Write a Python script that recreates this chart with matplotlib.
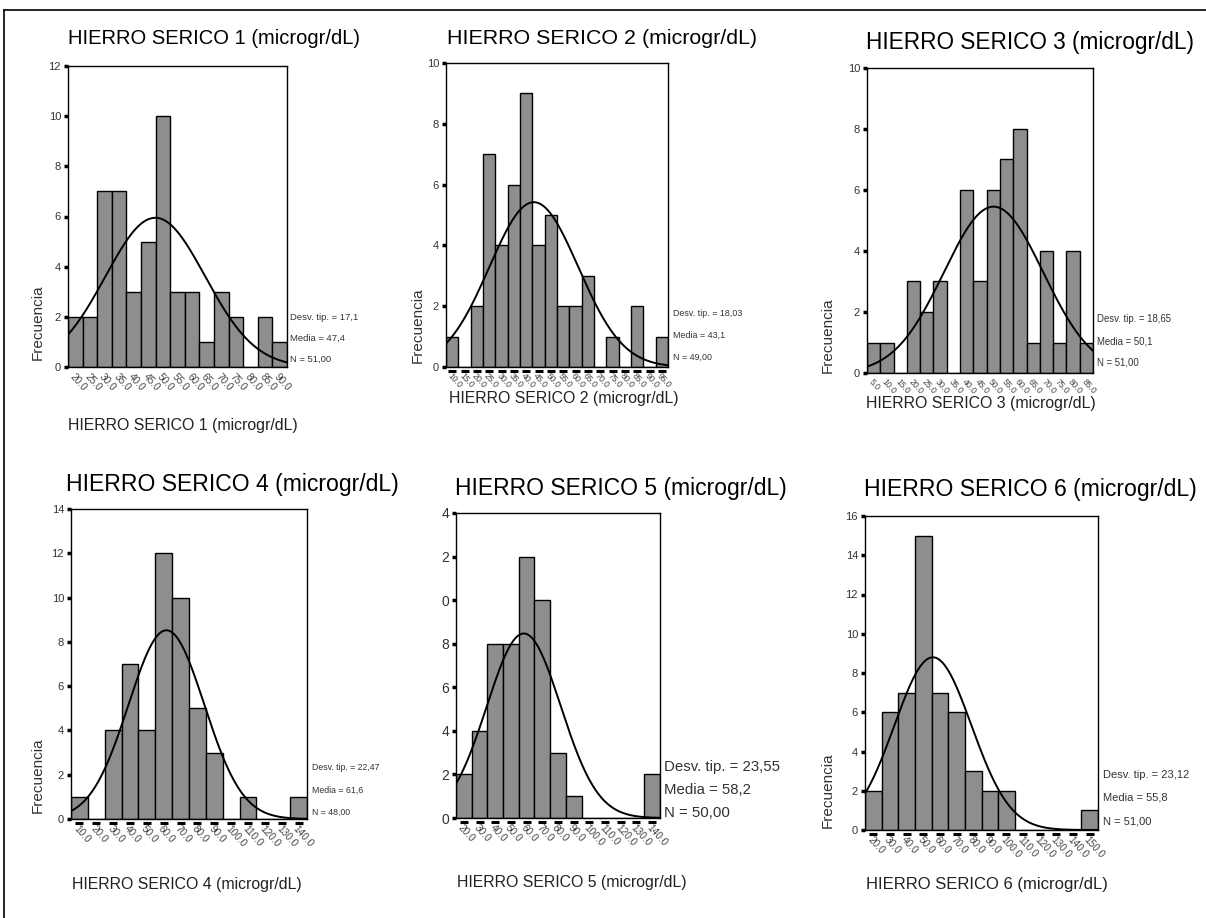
import numpy as np
import matplotlib
matplotlib.use("Agg")
import matplotlib.pyplot as plt
import matplotlib.transforms as mtransforms
from matplotlib.lines import Line2D

plt.rcParams['font.family'] = ['Liberation Sans', 'DejaVu Sans']

W, H = 1206, 918

# ---------------- data ----------------
titles = ["HIERRO SERICO 1 (microgr/dL)", "HIERRO SERICO 2 (microgr/dL)",
          "HIERRO SERICO 3 (microgr/dL)", "HIERRO SERICO 4 (microgr/dL)",
          "HIERRO SERICO 5 (microgr/dL)", "HIERRO SERICO 6 (microgr/dL)"]
xlabels = titles

centers1 = [20, 25, 30, 35, 40, 45, 50, 55, 60, 65, 70, 75, 80, 85, 90]
counts1 = [2, 2, 7, 7, 3, 5, 10, 3, 3, 1, 3, 2, 0, 2, 1]
centers2 = [10, 15, 20, 25, 30, 35, 40, 45, 50, 55, 60, 65, 70, 75, 80, 85, 90, 95]
counts2 = [1, 0, 2, 7, 4, 6, 9, 4, 5, 2, 2, 3, 0, 1, 0, 2, 0, 1]
centers3 = [5, 10, 15, 20, 25, 30, 35, 40, 45, 50, 55, 60, 65, 70, 75, 80, 85]
counts3 = [1, 1, 0, 3, 2, 3, 0, 6, 3, 6, 7, 8, 1, 4, 1, 4, 1]
centers4 = [10, 20, 30, 40, 50, 60, 70, 80, 90, 100, 110, 120, 130, 140]
counts4 = [1, 0, 4, 7, 4, 12, 10, 5, 3, 0, 1, 0, 0, 1]
centers5 = [20, 30, 40, 50, 60, 70, 80, 90, 100, 110, 120, 130, 140]
counts5 = [2, 4, 8, 8, 12, 10, 3, 1, 0, 0, 0, 0, 2]
centers6 = [20, 30, 40, 50, 60, 70, 80, 90, 100, 110, 120, 130, 140, 150]
counts6 = [2, 6, 7, 15, 7, 6, 3, 2, 2, 0, 0, 0, 0, 1]

bin_widths = [5, 5, 5, 10, 10, 10]
sd_vals = [17.1, 18.03, 18.65, 22.47, 23.55, 23.12]
mean_vals = [47.4, 43.1, 50.1, 61.6, 58.2, 55.8]
n_vals = [51, 49, 51, 48, 50, 51]
sd_txt = ["17,1", "18,03", "18,65", "22,47", "23,55", "23,12"]
mean_txt = ["47,4", "43,1", "50,1", "61,6", "58,2", "55,8"]
n_txt = ["51,00", "49,00", "51,00", "48,00", "50,00", "51,00"]

yticks_all = [[0, 2, 4, 6, 8, 10, 12], [0, 2, 4, 6, 8, 10], [0, 2, 4, 6, 8, 10],
              [0, 2, 4, 6, 8, 10, 12, 14], [0, 2, 4, 6, 8, 10, 12, 14],
              [0, 2, 4, 6, 8, 10, 12, 14, 16]]
ytick_labels5 = ["0", "2", "4", "6", "8", "0", "2", "4"]

centers_all = [centers1, centers2, centers3, centers4, centers5, centers6]
counts_all = [counts1, counts2, counts3, counts4, counts5, counts6]

# ---------------- layout (pixels) ----------------
boxes = [(68, 66, 287, 367), (446, 63, 668, 367), (867, 68, 1093, 373),
         (71, 509, 307, 819), (456, 513, 660, 818), (865, 516, 1098, 830)]
title_pos = [(68, 38, 14.5), (447, 38, 15.4), (866, 42, 16.3),
             (66, 484, 16.6), (455, 488, 16.5), (864, 490, 16.6)]
xlabel_pos = [(68, 425, 11.4), (449, 399, 11.4), (866, 404, 11.4),
              (72, 885, 11.4), (457, 883, 11.4), (866, 885, 12.0)]
ylabel_pos = [(38, 322), (418, 325), (828, 335), (38, 775), None, (828, 790)]
stats_pos = [(290, 317, 21, 6.8), (673, 313, 22, 6.4), (1097, 319, 22, 6.9),
             (312, 768, 22, 6.3), (664, 767, 23, 10.8), (1103, 775, 23, 8.0)]
xtick_fs = [7.2, 6.2, 6.2, 7.2, 7.2, 7.2]
dashes = [False, True, False, True, True, True]

fig = plt.figure(figsize=(W / 100, H / 100), dpi=100)

def fx(x):
    return x / W

def fy(y):
    return 1 - y / H

# outer frame (top and left lines)
fig.add_artist(Line2D([fx(4), fx(1206)], [fy(10), fy(10)], color='black', lw=1.2,
                      transform=fig.transFigure))
fig.add_artist(Line2D([fx(4), fx(4)], [fy(10), fy(918)], color='black', lw=1.2,
                      transform=fig.transFigure))

for i in range(6):
    l, t, r, b = boxes[i]
    ax = fig.add_axes([fx(l), fy(b), fx(r) - fx(l), (b - t) / H])
    c = np.array(centers_all[i], dtype=float)
    cnt = np.array(counts_all[i], dtype=float)
    bw = bin_widths[i]
    ax.bar(c, cnt, width=bw, color='#8e8e8e', edgecolor='black', linewidth=1.0, zorder=2)
    x0, x1 = c[0] - bw / 2, c[-1] + bw / 2
    xs = np.linspace(x0, x1, 300)
    ys = n_vals[i] * bw / (sd_vals[i] * np.sqrt(2 * np.pi)) * np.exp(-0.5 * ((xs - mean_vals[i]) / sd_vals[i]) ** 2)
    ax.plot(xs, ys, color='black', lw=1.4, zorder=3)
    ax.set_xlim(x0, x1)
    ax.set_ylim(0, yticks_all[i][-1])
    ax.set_yticks(yticks_all[i])
    if i == 4:
        ax.set_yticklabels(ytick_labels5)
    else:
        ax.set_yticklabels([str(v) for v in yticks_all[i]])
    ax.tick_params(axis='y', direction='out', length=3, width=2.5,
                   labelsize=10 if i == 4 else 8, pad=2, colors='black',
                   labelcolor='#333333')
    ax.set_xticks(c)
    ax.set_xticklabels([f"{v:.1f}" for v in c], rotation=-48, ha='left', va='top',
                       rotation_mode='anchor', fontsize=xtick_fs[i], color='#444444')
    ax.tick_params(axis='x', length=0, pad=3)
    for sp in ax.spines.values():
        sp.set_linewidth(1.0)
    if dashes[i]:
        trans = mtransforms.blended_transform_factory(ax.transData, ax.transAxes) + \
            mtransforms.ScaledTranslation(0, -4 / 100, fig.dpi_scale_trans)
        ax.plot(c, np.zeros_like(c), linestyle='none', marker='_', markersize=6,
                markeredgewidth=2.2, color='black', transform=trans, clip_on=False)
    # title
    tx, ty, ts = title_pos[i]
    fig.text(fx(tx), fy(ty), titles[i], fontsize=ts, ha='left', va='center', color='black')
    # xlabel
    lx, ly, ls = xlabel_pos[i]
    fig.text(fx(lx), fy(ly), xlabels[i], fontsize=ls, ha='left', va='center',
             color='#222222')
    # ylabel
    if ylabel_pos[i] is not None:
        yx, yy = ylabel_pos[i]
        fig.text(fx(yx), fy(yy), "Frecuencia", fontsize=11, rotation=90, ha='center',
                 va='center', color='#333333')
    # stats
    sx, sy, sdy, sfs = stats_pos[i]
    lines = [f"Desv. tip. = {sd_txt[i]}", f"Media = {mean_txt[i]}", f"N = {n_txt[i]}"]
    for k, s in enumerate(lines):
        fig.text(fx(sx), fy(sy + k * sdy), s, fontsize=sfs, ha='left', va='center',
                 color='#333333')

fig.savefig("out.png", dpi=100, facecolor='white')
